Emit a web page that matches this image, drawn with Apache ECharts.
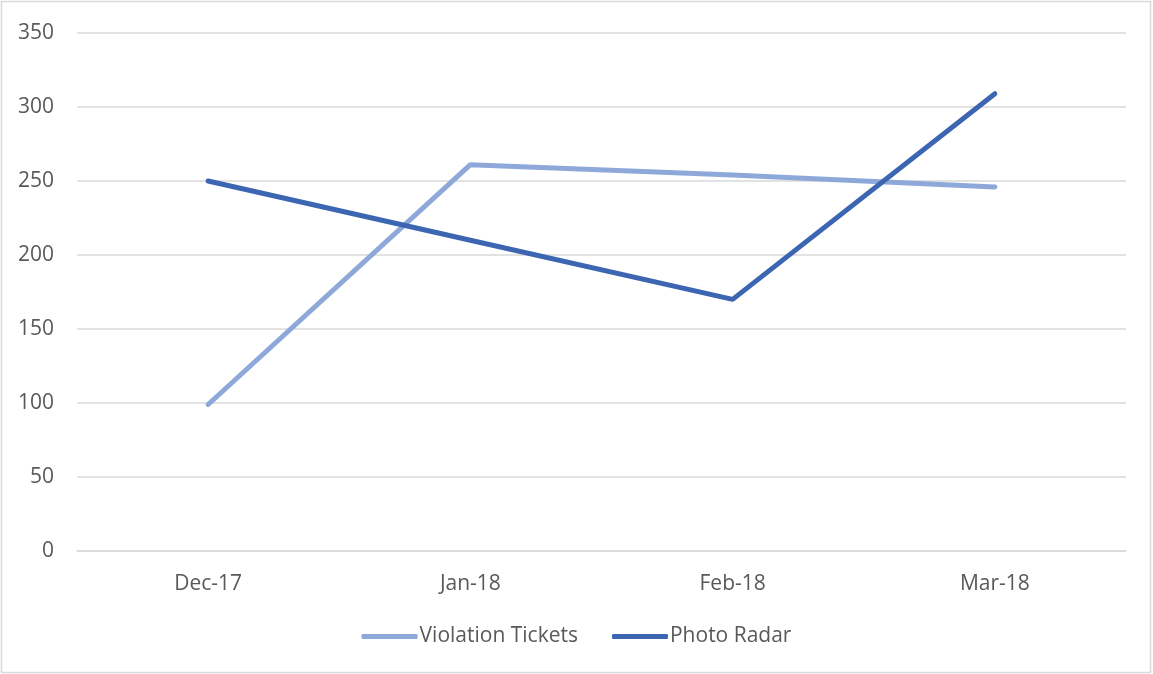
<!DOCTYPE html>
<html>
<head>
<meta charset="utf-8">
<script src="https://cdn.jsdelivr.net/npm/echarts@6/dist/echarts.min.js"></script>
<style>
html,body{margin:0;padding:0;background:#fff;}
#c{width:1153px;height:674px;}
</style>
</head>
<body>
<div id="c"></div>
<script>
const categories = ['Dec-17', 'Jan-18', 'Feb-18', 'Mar-18'];
const violationTickets = [99, 261, 254, 246];
const photoRadar = [250, 210, 170, 309];
const seriesNames = ['Violation Tickets', 'Photo Radar'];

const chart = echarts.init(document.getElementById('c'));
const txt = '#595959';
const font = '"Open Sans", "Liberation Sans", sans-serif';
chart.setOption({
  animation: false,
  backgroundColor: '#fff',
  textStyle: {fontFamily: font},
  graphic: [{
    type: 'rect',
    shape: {x: 1.5, y: 1.5, width: 1149, height: 671},
    style: {fill: 'none', stroke: '#d9d9d9', lineWidth: 1.5},
    silent: true
  }],
  grid: {left: 77, right: 27, top: 33, bottom: 123, containLabel: false},
  legend: {
    bottom: 22,
    left: 'center',
    itemWidth: 56,
    itemHeight: 5,
    itemGap: 34,
    icon: 'roundRect',
    textStyle: {color: txt, fontSize: 21, fontFamily: font, padding: [0,0,0,-3]},
    data: seriesNames
  },
  xAxis: {
    type: 'category',
    data: categories,
    boundaryGap: true,
    axisLine: {show: true, lineStyle: {color: '#d9d9d9', width: 1.5}},
    axisTick: {show: false},
    axisLabel: {color: txt, fontSize: 21, margin: 23, fontFamily: font}
  },
  yAxis: {
    type: 'value',
    min: 0, max: 350, interval: 50,
    axisLine: {show: false},
    axisTick: {show: false},
    axisLabel: {color: txt, fontSize: 21, margin: 23, fontFamily: font},
    splitLine: {lineStyle: {color: '#d9d9d9', width: 1.5}}
  },
  series: [
    {
      name: seriesNames[0], type: 'line', data: violationTickets,
      symbol: 'none', lineStyle: {width: 5, color: '#8fa8da', cap: 'round'},
      itemStyle: {color: '#8fa8da'}
    },
    {
      name: seriesNames[1], type: 'line', data: photoRadar,
      symbol: 'none', lineStyle: {width: 5, color: '#3d66b2', cap: 'round'},
      itemStyle: {color: '#3d66b2'}
    }
  ]
});
</script>
</body>
</html>
